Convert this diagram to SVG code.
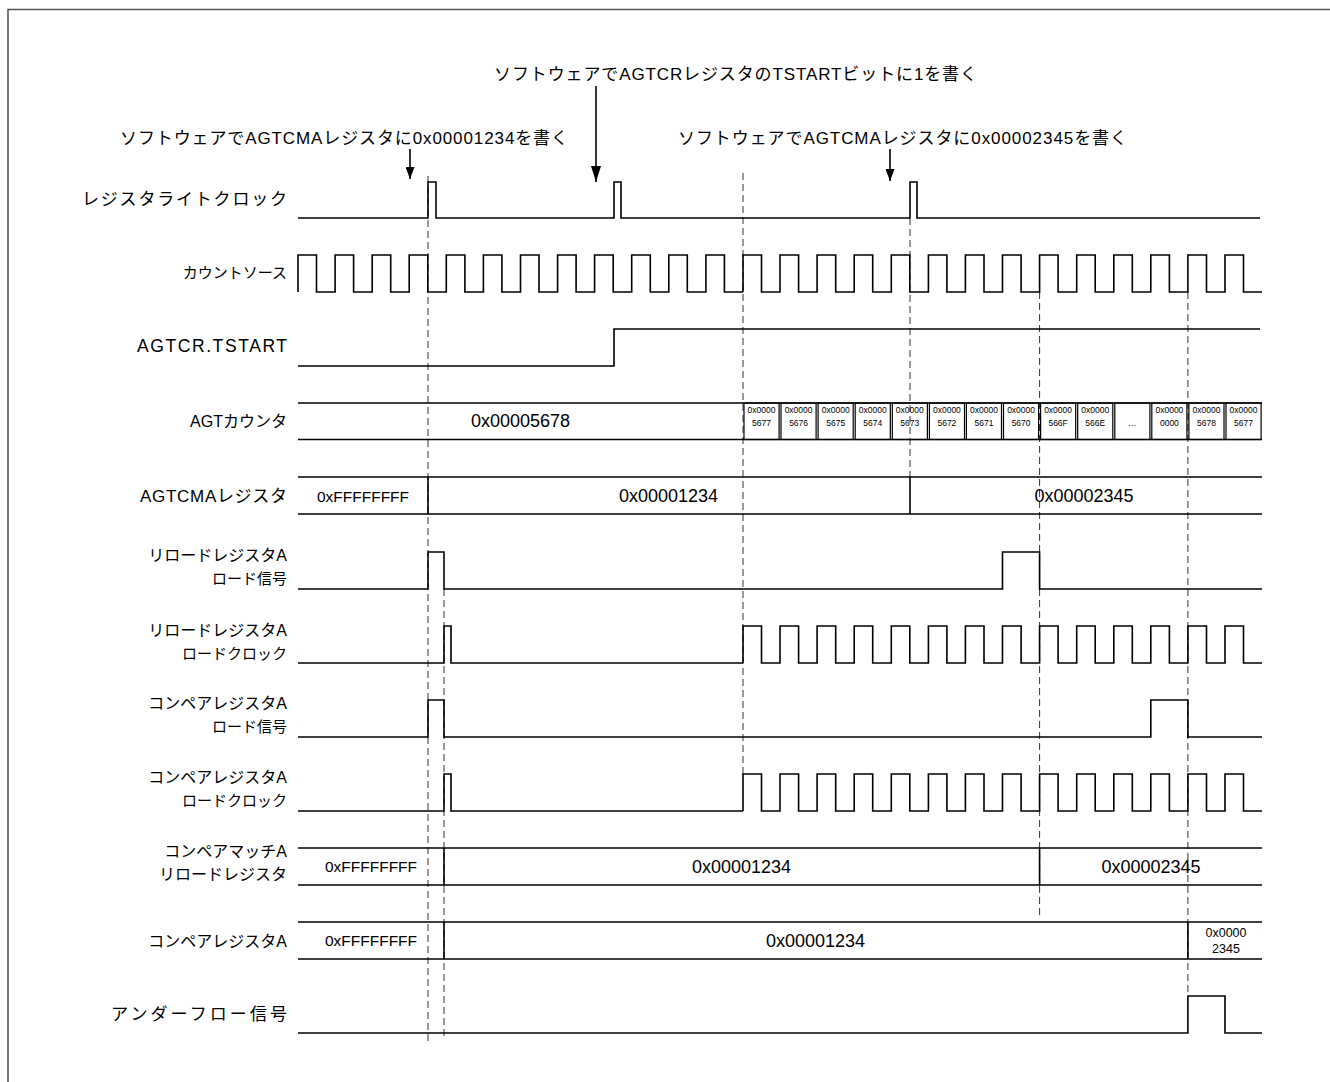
<svg xmlns="http://www.w3.org/2000/svg" width="1330" height="1082" viewBox="0 0 1330 1082">
<style>
text{font-family:"Liberation Sans","Noto Sans CJK JP",sans-serif;fill:#000}
.lbl{font-size:16px;text-anchor:end}
.ann{font-size:17px}
.val{font-size:18px;text-anchor:middle}
.valf{font-size:15.5px;text-anchor:middle}
.cell{font-size:8.5px;text-anchor:middle}
.sig{fill:none;stroke:#000;stroke-width:1.6}
.bus{fill:none;stroke:#000;stroke-width:1.6}
.cb{fill:none;stroke:#000;stroke-width:1.2}
.dash{fill:none;stroke:#333;stroke-width:1;stroke-dasharray:7 4}
.arr{stroke:#000;stroke-width:1.6}
</style>
<defs>
<marker id="ahB" viewBox="0 0 16 10" refX="16" refY="5" markerWidth="16" markerHeight="10" markerUnits="userSpaceOnUse" orient="auto"><path d="M0,0 L16,5 L0,10 Z" fill="#000"/></marker>
<marker id="ahS" viewBox="0 0 12 9" refX="12" refY="4.5" markerWidth="12" markerHeight="9" markerUnits="userSpaceOnUse" orient="auto"><path d="M0,0 L12,4.5 L0,9 Z" fill="#000"/></marker>
<path id="clkTail" d="M743,37 V0 H761.5 V37 H780 V0 H798.6 V37 H817.1 V0 H835.7 V37 H854.2 V0 H872.7 V37 H891.3 V0 H909.8 V37 H928.4 V0 H946.9 V37 H965.4 V0 H984 V37 H1002.5 V0 H1021.1 V37 H1039.6 V0 H1058.1 V37 H1076.7 V0 H1095.2 V37 H1113.8 V0 H1132.3 V37 H1150.8 V0 H1169.4 V37 H1187.9 V0 H1206.5 V37 H1225 V0 H1243.5 V37 H1262"/>
</defs>
<rect width="1330" height="1082" fill="#fff"/>
<path d="M8,1082 V9.5 H1330" fill="none" stroke="#555" stroke-width="1.6"/>

<g id="annotations">
<text class="ann" x="494" y="80" textLength="483">ソフトウェアでAGTCRレジスタのTSTARTビットに1を書く</text>
<text class="ann" x="120" y="144" textLength="448">ソフトウェアでAGTCMAレジスタに0x00001234を書く</text>
<text class="ann" x="678" y="144" textLength="449">ソフトウェアでAGTCMAレジスタに0x00002345を書く</text>
</g>

<g id="connectors">
<line class="arr" x1="596" y1="86" x2="596" y2="182" marker-end="url(#ahB)"/>
<line class="arr" x1="410" y1="149" x2="410" y2="179" marker-end="url(#ahS)"/>
<line class="arr" x1="890" y1="149" x2="890" y2="181" marker-end="url(#ahS)"/>
<line class="dash" x1="428" y1="176" x2="428" y2="1043"/>
<line class="dash" x1="444" y1="589" x2="444" y2="1040"/>
<line class="dash" x1="743" y1="173" x2="743" y2="774"/>
<line class="dash" x1="910" y1="218" x2="910" y2="477"/>
<line class="dash" x1="1039.6" y1="292" x2="1039.6" y2="917"/>
<line class="dash" x1="1187.9" y1="292" x2="1187.9" y2="996"/>
</g>

<g id="write-clock">
<text class="lbl" x="287" y="205" style="font-size:17px" textLength="205">レジスタライトクロック</text>
<path class="sig" d="M298,218 H428 V182 H436 V218 H614 V182 H621 V218 H910 V182 H917 V218 H1260"/>
</g>

<g id="count-source">
<text class="lbl" x="287" y="278" style="font-size:15px">カウントソース</text>
<path class="sig" d="M298,292 V255 H316.5 V292 H335.1 V255 H353.6 V292 H372.2 V255 H390.7 V292 H409.2 V255 H427.8 V292 H446.3 V255 H464.9 V292 H483.4 V255 H501.9 V292 H520.5 V255 H539 V292 H557.6 V255 H576.1 V292 H594.6 V255 H613.2 V292 H631.7 V255 H650.3 V292 H668.8 V255 H687.3 V292 H705.9 V255 H724.4 V292 H743"/>
<use href="#clkTail" class="sig" transform="translate(0,255)"/>
</g>

<g id="tstart">
<text class="lbl" x="287" y="352" style="font-size:17.5px" textLength="150">AGTCR.TSTART</text>
<path class="sig" d="M298,366 H614 V329 H1260"/>
</g>

<g id="agt-counter">
<text class="lbl" x="287" y="427">AGTカウンタ</text>
<path class="bus" d="M298,403 H1262 M298,439.5 H1262"/>
<text class="val" x="520.5" y="427">0x00005678</text>
<g class="cells">
<rect class="cb" x="744" y="403" width="35.1" height="36.5"/>
<rect class="cb" x="781" y="403" width="35.1" height="36.5"/>
<rect class="cb" x="818.1" y="403" width="35.1" height="36.5"/>
<rect class="cb" x="855.2" y="403" width="35.1" height="36.5"/>
<rect class="cb" x="892.3" y="403" width="35.1" height="36.5"/>
<rect class="cb" x="929.4" y="403" width="35.1" height="36.5"/>
<rect class="cb" x="966.4" y="403" width="35.1" height="36.5"/>
<rect class="cb" x="1003.5" y="403" width="35.1" height="36.5"/>
<rect class="cb" x="1040.6" y="403" width="35.1" height="36.5"/>
<rect class="cb" x="1077.7" y="403" width="35.1" height="36.5"/>
<rect class="cb" x="1114.8" y="403" width="35.1" height="36.5"/>
<rect class="cb" x="1151.8" y="403" width="35.1" height="36.5"/>
<rect class="cb" x="1188.9" y="403" width="35.1" height="36.5"/>
<rect class="cb" x="1226" y="403" width="35.1" height="36.5"/>
</g>
<text class="cell" x="761.5" y="413">0x0000</text><text class="cell" x="761.5" y="426">5677</text>
<text class="cell" x="798.6" y="413">0x0000</text><text class="cell" x="798.6" y="426">5676</text>
<text class="cell" x="835.7" y="413">0x0000</text><text class="cell" x="835.7" y="426">5675</text>
<text class="cell" x="872.7" y="413">0x0000</text><text class="cell" x="872.7" y="426">5674</text>
<text class="cell" x="909.8" y="413">0x0000</text><text class="cell" x="909.8" y="426">5673</text>
<text class="cell" x="946.9" y="413">0x0000</text><text class="cell" x="946.9" y="426">5672</text>
<text class="cell" x="984" y="413">0x0000</text><text class="cell" x="984" y="426">5671</text>
<text class="cell" x="1021.1" y="413">0x0000</text><text class="cell" x="1021.1" y="426">5670</text>
<text class="cell" x="1058.1" y="413">0x0000</text><text class="cell" x="1058.1" y="426">566F</text>
<text class="cell" x="1095.2" y="413">0x0000</text><text class="cell" x="1095.2" y="426">566E</text>
<text class="cell" x="1132.3" y="426">…</text>
<text class="cell" x="1169.4" y="413">0x0000</text><text class="cell" x="1169.4" y="426">0000</text>
<text class="cell" x="1206.5" y="413">0x0000</text><text class="cell" x="1206.5" y="426">5678</text>
<text class="cell" x="1243.5" y="413">0x0000</text><text class="cell" x="1243.5" y="426">5677</text>
</g>

<g id="agtcma">
<text class="lbl" x="287" y="502" style="font-size:17px" textLength="147">AGTCMAレジスタ</text>
<path class="bus" d="M298,477 H1262 M298,514 H1262 M428,477 V514 M910,477 V514"/>
<text class="valf" x="363" y="502">0xFFFFFFFF</text>
<text class="val" x="668.5" y="502">0x00001234</text>
<text class="val" x="1084" y="502">0x00002345</text>
</g>

<g id="reload-load-signal">
<text class="lbl" x="287" y="561">リロードレジスタA</text>
<text class="lbl" x="287" y="584" style="font-size:15px">ロード信号</text>
<path class="sig" d="M298,589 H428 V552 H444 V589 H1002.5 V552 H1039.6 V589 H1262"/>
</g>

<g id="reload-load-clock">
<text class="lbl" x="287" y="636">リロードレジスタA</text>
<text class="lbl" x="287" y="659" style="font-size:15px">ロードクロック</text>
<path class="sig" d="M298,663 H444 V626 H451 V663 H743"/>
<use href="#clkTail" class="sig" transform="translate(0,626)"/>
</g>

<g id="compare-load-signal">
<text class="lbl" x="287" y="709">コンペアレジスタA</text>
<text class="lbl" x="287" y="732" style="font-size:15px">ロード信号</text>
<path class="sig" d="M298,737 H428 V700 H444 V737 H1150.8 V700 H1187.9 V737 H1262"/>
</g>

<g id="compare-load-clock">
<text class="lbl" x="287" y="783">コンペアレジスタA</text>
<text class="lbl" x="287" y="806" style="font-size:15px">ロードクロック</text>
<path class="sig" d="M298,811 H444 V774 H451 V811 H743"/>
<use href="#clkTail" class="sig" transform="translate(0,774)"/>
</g>

<g id="cma-reload">
<text class="lbl" x="287" y="857">コンペアマッチA</text>
<text class="lbl" x="287" y="880">リロードレジスタ</text>
<path class="bus" d="M298,848 H1262 M298,885 H1262 M444,848 V885 M1039.6,848 V885"/>
<text class="valf" x="371" y="872">0xFFFFFFFF</text>
<text class="val" x="741.5" y="873">0x00001234</text>
<text class="val" x="1151" y="873">0x00002345</text>
</g>

<g id="compare-reg-a">
<text class="lbl" x="287" y="947">コンペアレジスタA</text>
<path class="bus" d="M298,922 H1262 M298,959 H1262 M444,922 V959 M1187.9,922 V959"/>
<text class="valf" x="371" y="946">0xFFFFFFFF</text>
<text class="val" x="815.5" y="947">0x00001234</text>
<text class="val" x="1226" y="937" style="font-size:12.5px">0x0000</text>
<text class="val" x="1226" y="953" style="font-size:12.5px">2345</text>
</g>

<g id="underflow">
<text class="lbl" x="287" y="1020" style="font-size:17px" textLength="176">アンダーフロー信号</text>
<path class="sig" d="M298,1033 H1187.9 V996 H1225 V1033 H1262"/>
</g>
</svg>
